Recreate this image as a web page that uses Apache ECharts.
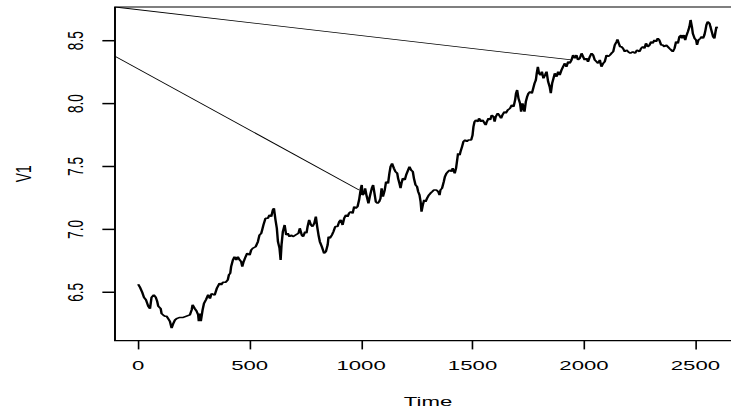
<!DOCTYPE html>
<html>
<head>
<meta charset="utf-8">
<script src="https://cdn.jsdelivr.net/npm/echarts@6/dist/echarts.min.js"></script>
<style>
html,body{margin:0;padding:0;background:#fff;overflow:hidden;width:731px;height:414px;}
#c{width:451px;height:414px;transform:scale(1.6208,1);transform-origin:0 0;}
</style>
</head>
<body>
<div id="c"></div>
<script>
// Time values (x) and series V1 values
var times = [
0,8,18,26,35,45,53,60,70,79,85,90,101,105,112,120,127,135,142,150,157,165,172,187,202,217,232,240,244,254,262,269,272,277,281,289,295,304,314,322,329,
343,353,365,372,380,392,402,407,413,417,425,432,440,447,455,462,467,473,482,489,500,507,514,527,537,544,552,556,562,571,582,589,597,604,609,616,622,627,634,639,643,649,657,664,671,679,686,694,706,
719,725,734,740,749,755,760,767,775,782,790,797,803,809,815,824,834,842,850,854,860,869,876,884,894,902,909,917,924,932,939,946,954,962,969,976,984,991,999,1003,1006,1014,1018,1024,1033,1039,1048,1054,1060,1066,1074,
1081,1087,1092,1098,1106,1112,1121,1127,1132,1139,1147,1154,1162,1166,1172,1177,1181,1187,1196,1202,1211,1217,1224,1232,1237,1244,1251,1256,1262,1267,1271,1277,1283,1289,1296,1304,1311,1319,1326,1337,1346,1352,1356,1363,1371,1376,1383,1390,1397,1406,1411,1420,1426,1431,1435,1442,1446,
1453,1459,1467,1474,1482,1494,1500,1504,1509,1515,1524,1529,1538,1545,1554,1559,1564,1572,1579,1586,1594,1599,1604,1613,1619,1628,1634,1643,1649,1658,1668,1676,1684,1691,1695,1700,1706,1713,1718,1724,1733,1739,1745,1751,1758,1766,1770,1778,1784,1788,1793,1798,1805,1811,1818,
1825,1832,1839,1846,1851,1857,1863,1869,1877,1884,1891,1899,1906,1914,1921,1929,1936,1944,1951,1959,1966,1973,1981,1989,1996,2003,2011,2018,2026,2034,2041,2048,2056,2063,2071,2078,2086,2093,2101,2108,2116,2123,2131,2138,2146,2150,2156,2162,2168,2175,2183,2190,
2198,2208,2219,2229,2238,2249,2256,2264,2271,2278,2286,2294,2301,2308,2316,2323,2331,2338,2346,2353,2361,2368,2376,2383,2391,2398,2406,2413,2421,2428,2436,2440,2448,2454,2458,2466,2473,2478,2484,2488,2496,2503,2507,2513,2522,2528,2534,2540,2545,2549,2555,2563,2567,2573,2579,2585,2590,2594,2597
];
var v1 = [
6.564,6.54,6.50,6.46,6.44,6.39,6.37,6.46,6.48,6.46,6.43,6.39,6.37,6.33,6.32,6.31,6.31,6.29,6.27,6.215,6.25,6.28,6.29,6.30,6.30,6.31,6.32,6.36,6.40,6.37,6.35,6.32,6.27,6.33,6.27,6.36,6.41,6.44,6.48,6.45,6.49,
6.478,6.532,6.572,6.558,6.579,6.579,6.598,6.638,6.651,6.704,6.757,6.783,6.757,6.783,6.757,6.743,6.704,6.743,6.783,6.810,6.796,6.836,6.850,6.862,6.902,6.955,6.969,6.995,7.035,7.088,7.088,7.115,7.101,7.154,7.168,7.075,7.009,6.902,6.850,6.757,6.876,6.982,7.035,6.955,6.969,6.942,6.955,6.942,6.955,
6.969,7.009,6.955,6.942,6.982,6.969,7.022,7.075,7.035,7.022,7.048,7.101,7.022,6.955,6.902,6.862,6.810,6.823,6.876,6.942,6.929,6.955,6.982,7.022,7.022,7.061,7.075,7.035,7.088,7.115,7.101,7.128,7.141,7.128,7.181,7.168,7.181,7.234,7.327,7.353,7.273,7.287,7.327,7.273,7.207,7.260,7.327,7.353,7.287,7.220,7.207,
7.220,7.247,7.327,7.260,7.313,7.379,7.366,7.446,7.498,7.525,7.486,7.459,7.446,7.406,7.366,7.327,7.366,7.406,7.393,7.432,7.472,7.498,7.472,7.459,7.406,7.353,7.340,7.300,7.273,7.220,7.140,7.194,7.234,7.220,7.247,7.273,7.287,7.300,7.313,7.313,7.300,7.273,7.313,7.327,7.379,7.419,7.446,7.459,7.472,7.459,7.486,7.446,7.486,7.552,7.605,7.591,7.618,
7.658,7.697,7.711,7.697,7.711,7.711,7.750,7.816,7.856,7.870,7.856,7.883,7.856,7.870,7.843,7.830,7.856,7.883,7.870,7.909,7.896,7.856,7.896,7.923,7.909,7.883,7.909,7.936,7.923,7.949,7.962,7.989,7.975,8.029,8.082,8.108,8.042,8.002,7.936,8.002,7.936,8.015,8.055,8.082,8.095,8.082,8.108,8.161,8.188,8.241,8.293,8.241,8.227,8.254,8.201,
8.227,8.254,8.174,8.134,8.082,8.161,8.201,8.241,8.214,8.254,8.227,8.267,8.293,8.320,8.293,8.333,8.320,8.347,8.386,8.360,8.386,8.347,8.360,8.400,8.373,8.347,8.360,8.333,8.373,8.400,8.386,8.347,8.333,8.320,8.347,8.293,8.320,8.333,8.386,8.373,8.386,8.400,8.413,8.466,8.492,8.511,8.479,8.452,8.452,8.439,8.413,8.426,
8.413,8.400,8.413,8.400,8.426,8.413,8.439,8.452,8.439,8.479,8.452,8.466,8.492,8.479,8.505,8.492,8.519,8.505,8.466,8.466,8.452,8.466,8.452,8.439,8.426,8.413,8.439,8.492,8.479,8.532,8.545,8.519,8.545,8.505,8.532,8.572,8.611,8.665,8.611,8.559,8.519,8.505,8.466,8.505,8.519,8.532,8.519,8.545,8.585,8.625,8.651,8.638,8.611,8.572,8.532,8.519,8.572,8.611,8.598
];
// Two stray segments seen in the reference (start off the left edge)
var strayA = [[-104, 8.768], [1944, 8.347]];
var strayB = [[-104, 8.377], [991, 7.313]];
// Axis ticks
var xTicks = [0, 500, 1000, 1500, 2000, 2500];
var yTicks = [6.5, 7.0, 7.5, 8.0, 8.5];
var xMin = -104, xMax = 2704, yMin = 6.115, yMax = 8.768;

var mainData = times.map(function (t, i) { return [t, v1[i]]; });
var font = 'Liberation Sans, Arial, Helvetica, sans-serif';
var chart = echarts.init(document.getElementById('c'), null, {renderer: 'svg'});
chart.setOption({
  animation: false,
  backgroundColor: '#ffffff',
  grid: [
    { // plot region (box)
      left: 70.95, top: 7, width: 386.2, bottom: 73.3,
      show: true, borderColor: '#000', borderWidth: 1.2, backgroundColor: 'transparent',
      outerBoundsMode: 'none', containLabel: false
    },
    { // helper region covering exactly the labelled y range 6.5 .. 8.5 (labels only)
      left: 70.95, top: 40.7, width: 386.2, bottom: 121.7,
      show: false, outerBoundsMode: 'none', containLabel: false
    }
  ],
  xAxis: [
    {
      gridIndex: 0, type: 'value', min: xMin, max: xMax, position: 'bottom',
      name: 'Time', nameLocation: 'middle', nameGap: 53,
      nameTextStyle: {fontFamily: font, fontSize: 13.7, color: '#000'},
      axisLine: {show: false, onZero: false},
      axisTick: {show: true, length: 8.7, inside: false, customValues: xTicks, lineStyle: {color: '#000', width: 1}},
      axisLabel: {show: true, margin: 17, customValues: xTicks, fontFamily: font, fontSize: 13.7, color: '#000',
        formatter: function (v) { return String(v); }},
      splitLine: {show: false}
    },
    {gridIndex: 1, type: 'value', min: xMin, max: xMax, show: false}
  ],
  yAxis: [
    {
      gridIndex: 0, type: 'value', min: yMin, max: yMax, position: 'left',
      name: 'V1', nameLocation: 'middle', nameGap: 49.5, nameRotate: 90,
      nameTextStyle: {fontFamily: font, fontSize: 13.7, color: '#000'},
      axisLine: {show: false, onZero: false},
      axisTick: {show: false},
      axisLabel: {show: false},
      splitLine: {show: false}
    },
    {
      gridIndex: 1, type: 'value', min: 6.5, max: 8.5, interval: 0.5, position: 'left',
      axisLine: {show: false, onZero: false},
      axisTick: {show: false},
      axisLabel: {show: true, rotate: 90, margin: 17.5, fontFamily: font, fontSize: 13.7, color: '#000',
        formatter: function (v) { return v.toFixed(1); }},
      splitLine: {show: false}
    }
  ],
  series: [
    {type: 'line', xAxisIndex: 0, yAxisIndex: 0, data: mainData, showSymbol: false, symbol: 'none', clip: true,
      lineStyle: {color: '#000', width: 1.5}, silent: true},
    {type: 'line', xAxisIndex: 0, yAxisIndex: 0, data: strayA, showSymbol: false, symbol: 'none', clip: true,
      lineStyle: {color: '#000', width: 0.8}, silent: true},
    {type: 'line', xAxisIndex: 0, yAxisIndex: 0, data: strayB, showSymbol: false, symbol: 'none', clip: true,
      lineStyle: {color: '#000', width: 0.8}, silent: true}
  ]
});

// y-axis tick marks, placed through the axis scale (outward, left of the box)
var boxLeft = chart.convertToPixel({xAxisIndex: 0}, xMin);
var tickLen = 7.8;
var tickMarks = yTicks.map(function (v) {
  var py = chart.convertToPixel({yAxisIndex: 0}, v);
  return {
    type: 'line', z: 200, silent: true,
    shape: {x1: boxLeft - tickLen, y1: py, x2: boxLeft, y2: py},
    style: {stroke: '#000', lineWidth: 1.5}
  };
});
chart.setOption({graphic: {elements: tickMarks}});
</script>
</body>
</html>
